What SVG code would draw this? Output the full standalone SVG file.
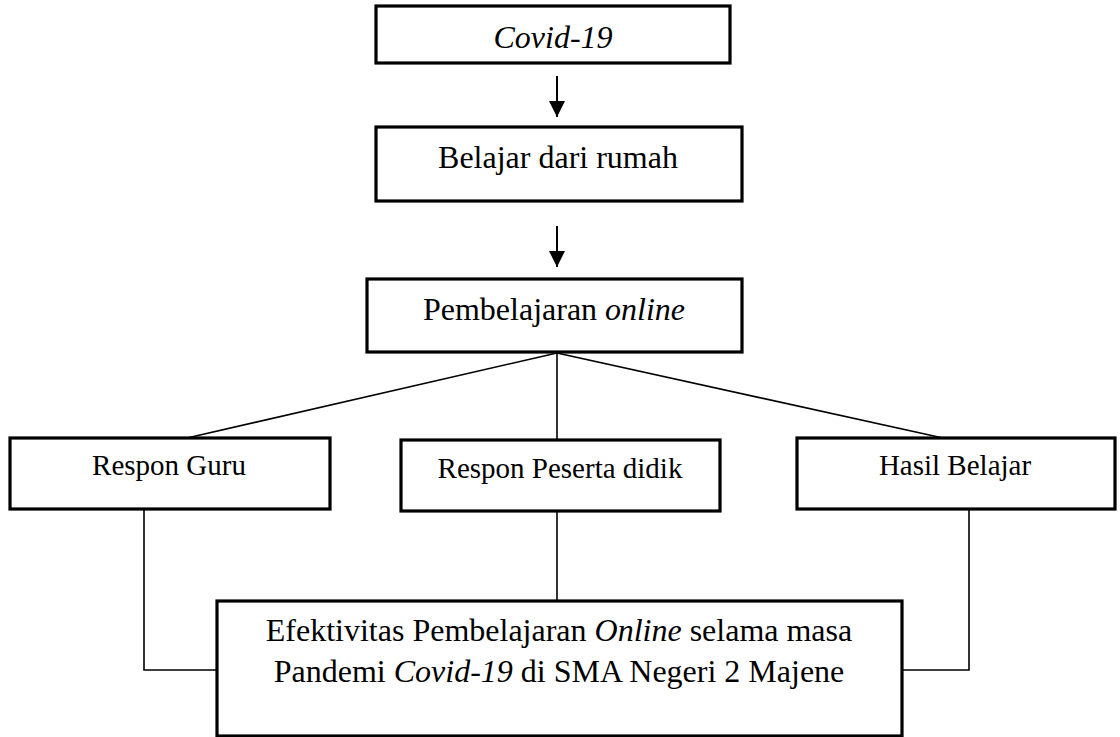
<svg xmlns="http://www.w3.org/2000/svg" width="1120" height="737" viewBox="0 0 1120 737">
<style>
.box{fill:#fff;stroke:#000;stroke-width:3.2}
.t{font-family:"Liberation Serif","Times New Roman",serif;fill:#000;text-anchor:middle}
.big{font-size:32px}
.sm{font-size:29px}
.conn{stroke:#000;stroke-width:1.6;fill:none}
.arr{stroke:#000;stroke-width:2;fill:none}
</style>
<defs>
<marker id="ah" markerUnits="userSpaceOnUse" markerWidth="16" markerHeight="16" refX="16" refY="8" orient="auto">
<path d="M0,0 L16,8 L0,16 Z" fill="#000"/>
</marker>
</defs>
<rect width="1120" height="737" fill="#fff"/>
<g id="connectors">
<line class="arr" x1="557" y1="76" x2="557" y2="117" marker-end="url(#ah)"/>
<line class="arr" x1="557" y1="226" x2="557" y2="267" marker-end="url(#ah)"/>
<line class="conn" x1="557" y1="353" x2="187" y2="438"/>
<line class="conn" x1="557" y1="353" x2="557" y2="440"/>
<line class="conn" x1="557" y1="353" x2="943" y2="438"/>
<polyline class="conn" points="144,509 144,670 217,670"/>
<line class="conn" x1="557" y1="511" x2="557" y2="601"/>
<polyline class="conn" points="969,509 969,670 902,670"/>
</g>
<g id="covid">
<rect class="box" x="376" y="6" width="354" height="57"/>
<text class="t big" x="553" y="48" font-style="italic">Covid-19</text>
</g>
<g id="belajar">
<rect class="box" x="376" y="127" width="366" height="74"/>
<text class="t big" x="558" y="168">Belajar dari rumah</text>
</g>
<g id="pembelajaran">
<rect class="box" x="367" y="279" width="375" height="73"/>
<text class="t big" x="554" y="320">Pembelajaran <tspan font-style="italic">online</tspan></text>
</g>
<g id="guru">
<rect class="box" x="10" y="438" width="320" height="71"/>
<text class="t sm" x="169" y="475">Respon Guru</text>
</g>
<g id="peserta">
<rect class="box" x="401" y="440" width="319" height="71"/>
<text class="t sm" x="560" y="478">Respon Peserta didik</text>
</g>
<g id="hasil">
<rect class="box" x="797" y="438" width="318" height="71"/>
<text class="t sm" x="955" y="475">Hasil Belajar</text>
</g>
<g id="efektivitas">
<rect class="box" x="217" y="601" width="685" height="135"/>
<text class="t big" x="559" y="641">Efektivitas Pembelajaran <tspan font-style="italic">Online</tspan> selama masa</text>
<text class="t big" x="559" y="682">Pandemi <tspan font-style="italic">Covid-19</tspan> di SMA Negeri 2 Majene</text>
</g>
</svg>
